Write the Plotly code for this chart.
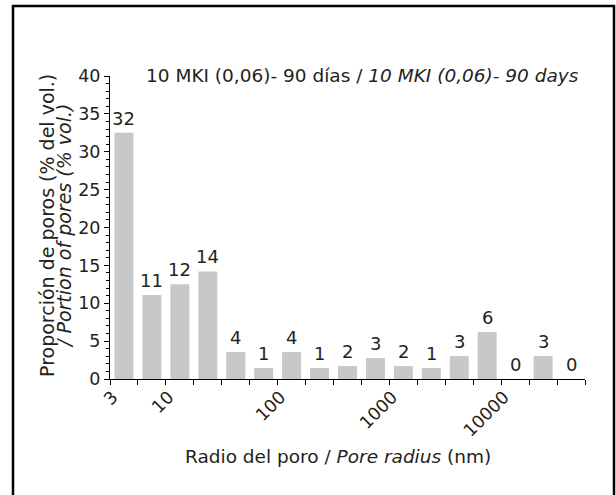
import plotly.graph_objects as go

positions = list(range(1, 18))
values = [32.5, 11.1, 12.5, 14.2, 3.56, 1.45, 3.56, 1.45, 1.7, 2.77, 1.7, 1.45, 3.04, 6.2, 0, 3.04, 0]
bar_labels = ["32", "11", "12", "14", "4", "1", "4", "1", "2", "3", "2", "1", "3", "6", "0", "3", "0"]
tick_categories = [1, 3, 7, 11, 15]
tick_labels = ["3", "10", "100", "1000", "10000"]

FONT = "DejaVu Sans, Liberation Sans, Arial, sans-serif"
TXT = "#231f20"

fig = go.Figure()
fig.add_trace(go.Bar(
    x=positions, y=values,
    marker=dict(color="#c7c8ca", line=dict(width=0)),
    width=0.68,
))

annotations = [
    dict(x=p, y=v, text=t, xref="x", yref="y", showarrow=False, yanchor="bottom",
         yshift=2, font=dict(size=18, color=TXT))
    for p, v, t in zip(positions, values, bar_labels)
]
annotations += [
    dict(text="10 MKI (0,06)- 90 días / <i>10 MKI (0,06)- 90 days</i>",
         xref="paper", yref="paper", x=0.532, y=1.043, showarrow=False,
         font=dict(size=18.5, color=TXT)),
    dict(text="Radio del poro / <i>Pore radius</i> (nm)",
         xref="paper", yref="paper", x=0.48, y=-0.297, showarrow=False,
         font=dict(size=18.5, color=TXT)),
    dict(text="Proporción de poros (% del vol.)",
         xref="paper", yref="paper", x=(34 - 110) / 475, y=0.505, showarrow=False, textangle=-90,
         font=dict(size=19, color=TXT)),
    dict(text="<i>/ Portion of pores (% vol.)</i>",
         xref="paper", yref="paper", x=(51 - 110) / 475, y=0.505, showarrow=False, textangle=-90,
         font=dict(size=19, color=TXT)),
]

fig.update_layout(
    width=616, height=495,
    margin=dict(l=110, r=31, t=76, b=116, autoexpand=False),
    plot_bgcolor="white", paper_bgcolor="white",
    showlegend=False,
    font=dict(family=FONT, size=17, color=TXT),
    xaxis=dict(
        range=[0.5, 17.5], tickmode="array",
        tickvals=[c - 0.4 for c in tick_categories], ticktext=tick_labels,
        tickangle=-45, ticks="", showgrid=False, zeroline=False, automargin=False,
        showline=True, linecolor="black", linewidth=1,
        tickfont=dict(size=17.5, color=TXT),
        minor=dict(tickmode="linear", tick0=0.5, dtick=1, ticks="outside", ticklen=5,
                   tickcolor="black", showgrid=False),
    ),
    yaxis=dict(
        range=[0, 40], tickmode="linear", tick0=0, dtick=5, ticks="outside", ticklen=5,
        tickcolor="black", showgrid=False, zeroline=False, automargin=False,
        showline=True, linecolor="black", linewidth=1,
        tickfont=dict(size=17.5, color=TXT),
        minor=dict(dtick=1, ticks="outside", ticklen=3, tickcolor="black", showgrid=False),
    ),
    annotations=annotations,
    shapes=[
        dict(type="rect", xref="paper", yref="paper", x0=(13 - 110) / 475, x1=(614 - 110) / 475,
             y0=(379 - 500) / 303, y1=(379 - 6) / 303,
             line=dict(color="black", width=2.5), fillcolor="rgba(0,0,0,0)", layer="above"),
    ],
)

fig.write_html("out.html", config={"displayModeBar": False},
               post_script="document.body.style.margin='0px';")
